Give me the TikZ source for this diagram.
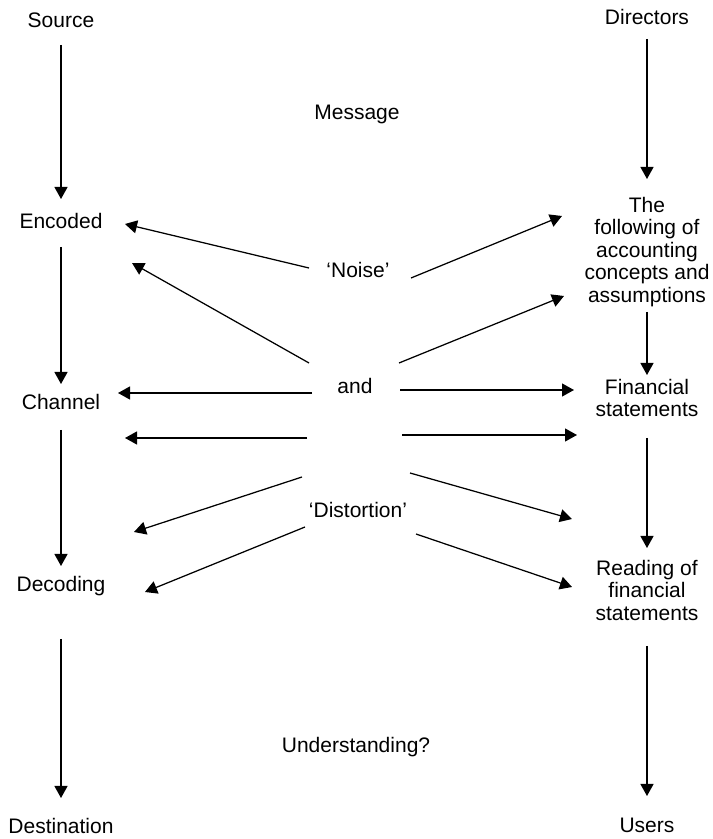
\documentclass[tikz,border=0pt]{standalone}
\usepackage{fontspec}
\setmainfont{Liberation Sans}
\usetikzlibrary{arrows.meta}
\tikzset{
  lbl/.style={font=\fontsize{21}{22.5}\selectfont, inner sep=0pt, text height=15.75pt, text depth=6.75pt},
  mlbl/.style={font=\fontsize{21}{22.5}\selectfont, inner sep=0pt, align=center},
  arr/.style={line width=1.25pt, -{Triangle[length=12pt,width=13pt]}}
}
\begin{document}
\begin{tikzpicture}[x=1pt,y=1pt]
\useasboundingbox (0,0) rectangle (713,839);
% left column
\node[lbl] (source) at (61,816) {Source};
\node[lbl] (encoded) at (61,615) {Encoded};
\node[lbl] (channel) at (61,434) {Channel};
\node[lbl] (decoding) at (61,252) {Decoding};
\node[lbl] (destination) at (61,10) {Destination};
% right column
\node[lbl] (directors) at (647,819) {Directors};
\node[mlbl] (following) at (647,586) {\strut The\\following of\\accounting\\concepts and\\assumptions\strut};
\node[mlbl] (financial) at (647,438) {\strut Financial\\statements\strut};
\node[mlbl] (reading) at (647,245.5) {\strut Reading of\\financial\\statements\strut};
\node[lbl] (users) at (647,11) {Users};
% middle
\node[lbl] (message) at (357,724) {Message};
\node[lbl] (noise) at (358,566) {‘Noise’};
\node[lbl] (and) at (355,450) {and};
\node[lbl] (distortion) at (358,326) {‘Distortion’};
\node[lbl] (understanding) at (356,91) {Understanding?};
% vertical arrows
\draw[arr] ([yshift=-22pt]source.center) -- ([yshift=25pt]encoded.center);
\draw[arr] ([yshift=-23pt]encoded.center) -- ([yshift=21pt]channel.center);
\draw[arr] ([yshift=-25pt]channel.center) -- ([yshift=21pt]decoding.center);
\draw[arr] ([yshift=-52pt]decoding.center) -- ([yshift=31pt]destination.center);
\draw[arr] ([yshift=-19pt]directors.center) -- ([yshift=74pt]following.center);
\draw[arr] ([yshift=-59pt]following.center) -- ([yshift=26pt]financial.center);
\draw[arr] ([yshift=-37pt]financial.center) -- ([yshift=45.5pt]reading.center);
\draw[arr] ([yshift=-52.5pt]reading.center) -- ([yshift=32pt]users.center);
% tails of the noise / distortion arrows
\coordinate (t1) at (309,571);
\coordinate (t2) at (309,476);
\coordinate (t3) at (411,561);
\coordinate (t4) at (399,476);
\coordinate (t5) at (312,446);
\coordinate (t6) at (400,449);
\coordinate (t7) at (307,401);
\coordinate (t8) at (402,404);
\coordinate (t9) at (302,362);
\coordinate (t10) at (410,366);
\coordinate (t11) at (305,312);
\coordinate (t12) at (416,305);
\draw[arr] (t1) -- ([xshift=64pt]encoded.center);
\draw[arr] (t2) -- ([xshift=71pt,yshift=-39pt]encoded.center);
\draw[arr] (t3) -- ([xshift=-85pt,yshift=37pt]following.center);
\draw[arr] (t4) -- ([xshift=-83pt,yshift=-43pt]following.center);
\draw[arr] (t5) -- ([xshift=57pt,yshift=12pt]channel.center);
\draw[arr] (t6) -- ([xshift=-73pt,yshift=11pt]financial.center);
\draw[arr] (t7) -- ([xshift=64pt,yshift=-33pt]channel.center);
\draw[arr] (t8) -- ([xshift=-70pt,yshift=-34pt]financial.center);
\draw[arr] (t9) -- ([xshift=73pt,yshift=55pt]decoding.center);
\draw[arr] (t10) -- ([xshift=-75pt,yshift=74.5pt]reading.center);
\draw[arr] (t11) -- ([xshift=84pt,yshift=-5pt]decoding.center);
\draw[arr] (t12) -- ([xshift=-75pt,yshift=6.5pt]reading.center);
\end{tikzpicture}
\end{document}
